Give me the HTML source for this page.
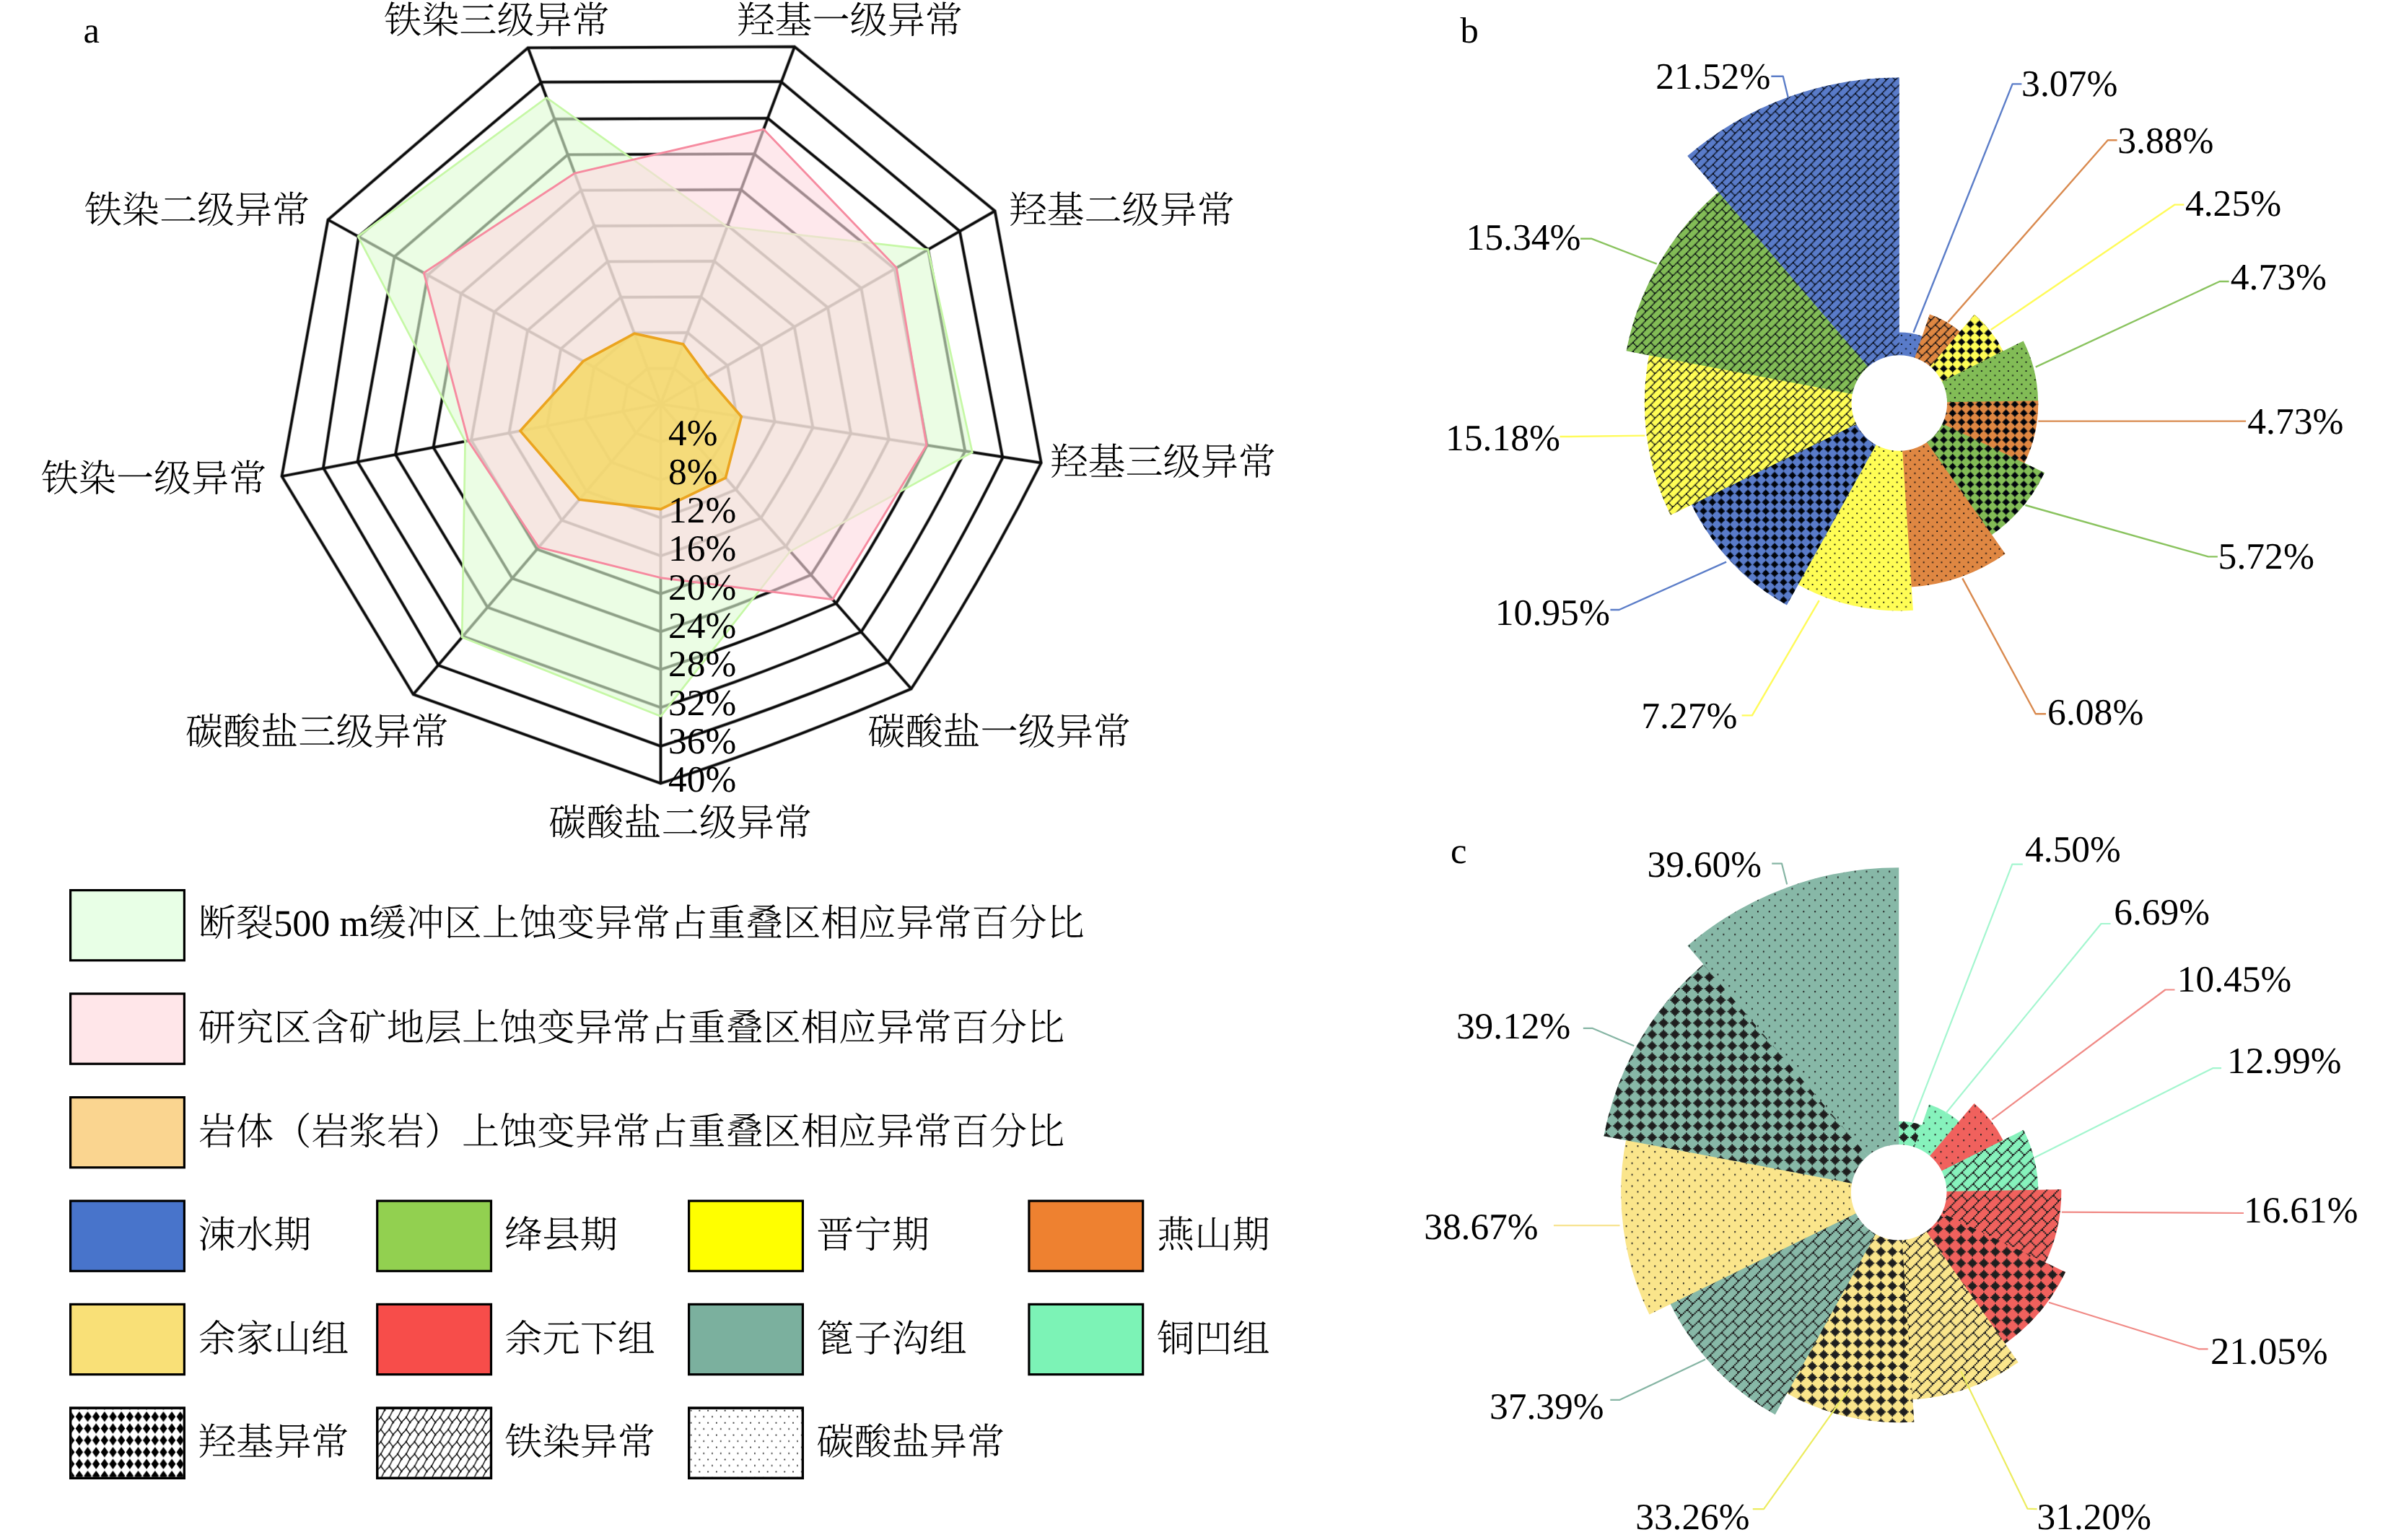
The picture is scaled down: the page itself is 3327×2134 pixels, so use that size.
<!DOCTYPE html>
<html lang="zh"><head><meta charset="utf-8"><title>figure</title>
<style>html,body{margin:0;padding:0;background:#fff}svg{display:block}text{text-rendering:geometricPrecision}</style></head><body>
<svg width="3327" height="2134" viewBox="0 0 3327 2134">
<defs>
<pattern id="brick_b" width="12.330" height="12.330" patternUnits="userSpaceOnUse">
<path d="M10.74,-0.05h1.63v1.63h-1.63zM9.20,1.50h1.63v1.63h-1.63zM7.66,3.04h1.63v1.63h-1.63zM6.12,4.58h1.63v1.63h-1.63zM4.58,6.12h3.17v1.63h-3.17zM3.04,7.66h1.63v1.63h-1.63zM7.66,7.66h1.63v1.63h-1.63zM1.50,9.20h1.63v1.63h-1.63zM9.20,9.20h1.63v1.63h-1.63zM-0.05,10.74h1.63v1.63h-1.63zM10.74,10.74h1.63v1.63h-1.63z" fill="#00040c"/>
</pattern>
<pattern id="dia_b" width="12.330" height="12.330" patternUnits="userSpaceOnUse">
<polygon points="6.13,0.22 6.13,1.70 7.61,1.70 7.61,3.17 9.09,3.17 9.09,4.65 10.57,4.65 10.57,6.13 9.09,6.13 9.09,7.61 7.61,7.61 7.61,9.09 6.13,9.09 6.13,10.57 4.65,10.57 4.65,9.09 3.17,9.09 3.17,7.61 1.70,7.61 1.70,6.13 0.22,6.13 0.22,4.65 1.70,4.65 1.70,3.17 3.17,3.17 3.17,1.70 4.65,1.70 4.65,0.22" fill="#00040c"/>
</pattern>
<pattern id="dot_b" width="12.330" height="12.330" patternUnits="userSpaceOnUse">
<rect x="1.54" y="1.54" width="1.82" height="1.82" fill="#00040c"/>
<rect x="7.71" y="7.71" width="1.82" height="1.82" fill="#00040c"/>
</pattern>
<pattern id="brick_c" width="15.850" height="15.850" patternUnits="userSpaceOnUse">
<path d="M13.81,-0.06h2.10v2.10h-2.10zM11.83,1.92h2.10v2.10h-2.10zM9.85,3.90h2.10v2.10h-2.10zM7.87,5.88h2.10v2.10h-2.10zM5.88,7.87h4.08v2.10h-4.08zM3.90,9.85h2.10v2.10h-2.10zM9.85,9.85h2.10v2.10h-2.10zM1.92,11.83h2.10v2.10h-2.10zM11.83,11.83h2.10v2.10h-2.10zM-0.06,13.81h2.10v2.10h-2.10zM13.81,13.81h2.10v2.10h-2.10z" fill="#1e1e1e"/>
</pattern>
<pattern id="dia_c" width="15.850" height="15.850" patternUnits="userSpaceOnUse">
<polygon points="7.89,0.28 7.89,2.18 9.79,2.18 9.79,4.08 11.69,4.08 11.69,5.98 13.59,5.98 13.59,7.89 11.69,7.89 11.69,9.79 9.79,9.79 9.79,11.69 7.89,11.69 7.89,13.59 5.98,13.59 5.98,11.69 4.08,11.69 4.08,9.79 2.18,9.79 2.18,7.89 0.28,7.89 0.28,5.98 2.18,5.98 2.18,4.08 4.08,4.08 4.08,2.18 5.98,2.18 5.98,0.28" fill="#1e1e1e"/>
</pattern>
<pattern id="dot_c" width="15.850" height="15.850" patternUnits="userSpaceOnUse">
<rect x="1.98" y="1.98" width="1.75" height="2.30" fill="#1e1e1e"/>
<rect x="9.91" y="9.91" width="1.75" height="2.30" fill="#1e1e1e"/>
</pattern>
<pattern id="brick_l" x="527.8" y="1964" width="11.7" height="16.95" patternUnits="userSpaceOnUse">
<path d="M0,0 L5.07,6.9 M0,16.95 L5.07,6.9 L11.7,0" stroke="#000" stroke-width="1.35" fill="none"/>
<path d="M5.07,6.9 l1.9,0 l-1.9,2.2 z M0,0 l-1.6,0 l1.6,-2 z M11.7,0 l-1.6,0 l1.6,-2 z M0,16.95 l-1.6,0 l1.6,-2 z M11.7,16.95 l-1.6,0 l1.6,-2 z" fill="#000"/>
</pattern>
<pattern id="dia_l" x="104.04" y="1954.9" width="11.66" height="16.4" patternUnits="userSpaceOnUse">
<polygon points="0.6,8.2 5.83,0.9 11.06,8.2 5.83,15.5" fill="#000"/>
</pattern>
<pattern id="dot_l" x="956.6" y="1953.8" width="11.79" height="16.94" patternUnits="userSpaceOnUse">
<rect x="0" y="0" width="1.8" height="1.8" fill="#222"/><rect x="5.9" y="8.47" width="1.8" height="1.8" fill="#222"/>
</pattern>
</defs>
<rect width="3327" height="2134" fill="#fff"/>
<g id="radar" stroke-linejoin="miter">
<g fill="none" stroke="#101010" stroke-width="4.8" stroke-opacity="0.45"><path d="M915.5,612.5L881.2,600.2L863.0,570.0L869.4,534.5L897.1,510.6L934.0,510.5L961.8,533.2L968.2,568.1Q960.1,584.3 950.2,599.5Q933.2,606.8 915.5,612.5Z"/><path d="M915.5,665.1L846.9,640.5L810.5,580.0L823.3,508.9L878.7,461.2L952.6,460.9L1008.1,506.5L1020.9,576.3Q1004.7,608.5 984.9,638.9Q950.8,653.6 915.5,665.1Z"/><path d="M915.5,717.6L812.7,680.7L758.0,590.0L777.2,483.4L860.3,411.9L971.1,411.4L1054.4,479.7L1073.7,584.4Q1049.3,632.8 1019.7,678.4Q968.5,700.4 915.5,717.6Z"/><path d="M915.5,770.2L778.4,720.9L705.5,600.0L731.1,457.8L841.9,362.5L989.7,361.9L1100.7,452.9L1126.4,592.6Q1093.9,657.1 1054.4,717.8Q986.2,747.2 915.5,770.2Z"/><path d="M915.5,822.8L744.1,761.1L653.0,610.0L685.0,432.2L823.5,313.1L1008.2,312.4L1147.0,426.1L1179.1,600.7Q1138.5,681.4 1089.1,757.2Q1003.8,794.0 915.5,822.8Z"/><path d="M915.5,875.3L709.8,801.4L600.5,620.0L638.9,406.7L805.2,263.7L1026.8,262.8L1193.4,399.4L1231.8,608.8Q1183.1,705.6 1123.8,796.7Q1021.5,840.8 915.5,875.3Z"/><path d="M915.5,927.8L675.5,841.6L548.0,630.0L592.8,381.1L786.8,214.3L1045.3,213.3L1239.7,372.6L1284.5,617.0Q1227.7,729.9 1158.5,836.1Q1039.1,887.6 915.5,927.8Z"/><path d="M915.5,980.4L641.3,881.8L495.5,640.0L546.7,355.6L768.4,165.0L1063.9,163.8L1286.0,345.8L1337.3,625.1Q1272.3,754.2 1193.3,875.6Q1056.8,934.4 915.5,980.4Z"/><path d="M915.5,1034.0L607.5,921.9L448.0,648.2L497.0,327.5L750.6,113.8L1082.0,113.0L1329.8,320.2L1389.3,634.2Q1317.6,780.2 1230.2,917.5Q1075.6,983.0 915.5,1034.0Z"/><path d="M915.5,1085.5L572.7,962.3L390.5,660.0L454.5,304.5L731.6,66.2L1101.0,64.7L1378.6,292.3L1442.7,641.4Q1361.5,802.7 1262.7,954.5Q1092.1,1028.0 915.5,1085.5Z"/><line x1="915.5" y1="560.0" x2="915.5" y2="1085.5"/><line x1="915.5" y1="560.0" x2="572.7" y2="962.3"/><line x1="915.5" y1="560.0" x2="390.5" y2="660.0"/><line x1="915.5" y1="560.0" x2="454.5" y2="304.5"/><line x1="915.5" y1="560.0" x2="731.6" y2="66.2"/><line x1="915.5" y1="560.0" x2="1101.0" y2="64.7"/><line x1="915.5" y1="560.0" x2="1378.6" y2="292.3"/><line x1="915.5" y1="560.0" x2="1442.7" y2="641.4"/><line x1="915.5" y1="560.0" x2="1262.7" y2="954.5"/></g>
<g fill="none" stroke="#0c0c0c" stroke-width="3.1"><path d="M915.5,612.5L881.2,600.2L863.0,570.0L869.4,534.5L897.1,510.6L934.0,510.5L961.8,533.2L968.2,568.1Q960.1,584.3 950.2,599.5Q933.2,606.8 915.5,612.5Z"/><path d="M915.5,665.1L846.9,640.5L810.5,580.0L823.3,508.9L878.7,461.2L952.6,460.9L1008.1,506.5L1020.9,576.3Q1004.7,608.5 984.9,638.9Q950.8,653.6 915.5,665.1Z"/><path d="M915.5,717.6L812.7,680.7L758.0,590.0L777.2,483.4L860.3,411.9L971.1,411.4L1054.4,479.7L1073.7,584.4Q1049.3,632.8 1019.7,678.4Q968.5,700.4 915.5,717.6Z"/><path d="M915.5,770.2L778.4,720.9L705.5,600.0L731.1,457.8L841.9,362.5L989.7,361.9L1100.7,452.9L1126.4,592.6Q1093.9,657.1 1054.4,717.8Q986.2,747.2 915.5,770.2Z"/><path d="M915.5,822.8L744.1,761.1L653.0,610.0L685.0,432.2L823.5,313.1L1008.2,312.4L1147.0,426.1L1179.1,600.7Q1138.5,681.4 1089.1,757.2Q1003.8,794.0 915.5,822.8Z"/><path d="M915.5,875.3L709.8,801.4L600.5,620.0L638.9,406.7L805.2,263.7L1026.8,262.8L1193.4,399.4L1231.8,608.8Q1183.1,705.6 1123.8,796.7Q1021.5,840.8 915.5,875.3Z"/><path d="M915.5,927.8L675.5,841.6L548.0,630.0L592.8,381.1L786.8,214.3L1045.3,213.3L1239.7,372.6L1284.5,617.0Q1227.7,729.9 1158.5,836.1Q1039.1,887.6 915.5,927.8Z"/><path d="M915.5,980.4L641.3,881.8L495.5,640.0L546.7,355.6L768.4,165.0L1063.9,163.8L1286.0,345.8L1337.3,625.1Q1272.3,754.2 1193.3,875.6Q1056.8,934.4 915.5,980.4Z"/><path d="M915.5,1034.0L607.5,921.9L448.0,648.2L497.0,327.5L750.6,113.8L1082.0,113.0L1329.8,320.2L1389.3,634.2Q1317.6,780.2 1230.2,917.5Q1075.6,983.0 915.5,1034.0Z"/><path d="M915.5,1085.5L572.7,962.3L390.5,660.0L454.5,304.5L731.6,66.2L1101.0,64.7L1378.6,292.3L1442.7,641.4Q1361.5,802.7 1262.7,954.5Q1092.1,1028.0 915.5,1085.5Z"/><line x1="915.5" y1="560.0" x2="915.5" y2="1085.5"/><line x1="915.5" y1="560.0" x2="572.7" y2="962.3"/><line x1="915.5" y1="560.0" x2="390.5" y2="660.0"/><line x1="915.5" y1="560.0" x2="454.5" y2="304.5"/><line x1="915.5" y1="560.0" x2="731.6" y2="66.2"/><line x1="915.5" y1="560.0" x2="1101.0" y2="64.7"/><line x1="915.5" y1="560.0" x2="1378.6" y2="292.3"/><line x1="915.5" y1="560.0" x2="1442.7" y2="641.4"/><line x1="915.5" y1="560.0" x2="1262.7" y2="954.5"/></g>
<polygon points="915.5,992.5 640.2,883.0 644.6,611.6 496.0,327.5 757.3,135.3 1007.6,314.1 1286.0,345.8 1347.3,626.7 1095.0,764.0" fill="rgb(222,252,212)" fill-opacity="0.62" stroke="#c6f8a6" stroke-width="2.7"/>
<polygon points="915.5,800.7 746.5,758.3 648.8,610.8 587.3,378.1 796.3,240.0 1058.1,179.1 1242.3,371.1 1284.0,616.9 1153.7,830.6" fill="rgb(254,218,224)" fill-opacity="0.62" stroke="#f68ba0" stroke-width="2.9"/>
<polygon points="915.5,705.6 802.7,692.4 720.9,597.1 808.2,500.5 879.1,462.2 946.6,476.9 980.1,522.6 1027.3,577.3 1005.4,662.2" fill="rgb(245,216,105)" fill-opacity="0.86" stroke="#eba41f" stroke-width="3.6"/>
</g>
<g font-family='"Liberation Serif",serif' font-size="51.4" fill="#000">
<text x="926" y="617.4">4%</text>
<text x="926" y="670.7">8%</text>
<text x="926" y="724.0">12%</text>
<text x="926" y="777.3">16%</text>
<text x="926" y="830.6">20%</text>
<text x="926" y="883.9">24%</text>
<text x="926" y="937.2">28%</text>
<text x="926" y="990.5">32%</text>
<text x="926" y="1043.8">36%</text>
<text x="926" y="1097.1">40%</text>
</g>
<g font-family='"Liberation Serif","Noto Serif CJK SC",serif' font-size="52.1" font-weight="300" fill="#000">
<text x="532.1" y="46.3">铁染三级异常</text>
<text x="1021.3" y="46.3">羟基一级异常</text>
<text x="116.7" y="309.4">铁染二级异常</text>
<text x="1398.3" y="309.4">羟基二级异常</text>
<text x="56.7" y="680.8">铁染一级异常</text>
<text x="1455.3" y="657.8">羟基三级异常</text>
<text x="257.0" y="1031.8">碳酸盐三级异常</text>
<text x="1202.3" y="1031.8">碳酸盐一级异常</text>
<text x="760.3" y="1157.8">碳酸盐二级异常</text>
</g>
<g id="pie_b">
<path d="M2631.40,493.20 L2631.20,460.50 A98.00,98.00 0 0 1 2664.03,465.95 L2653.27,496.83 A65.30,65.30 0 0 0 2631.40,493.20 Z" fill="#597bc9"/>
<path d="M2631.40,493.20 L2631.20,460.50 A98.00,98.00 0 0 1 2664.03,465.95 L2653.27,496.83 A65.30,65.30 0 0 0 2631.40,493.20 Z" fill="url(#dot_b)"/>
<path d="M2652.95,496.72 L2673.91,435.51 A130.00,130.00 0 0 1 2716.40,459.79 L2674.30,508.92 A65.30,65.30 0 0 0 2652.95,496.72 Z" fill="#df8742"/>
<path d="M2652.95,496.72 L2673.91,435.51 A130.00,130.00 0 0 1 2716.40,459.79 L2674.30,508.92 A65.30,65.30 0 0 0 2652.95,496.72 Z" fill="url(#brick_b)"/>
<path d="M2674.04,508.70 L2735.93,435.71 A161.00,161.00 0 0 1 2776.13,487.17 L2690.34,529.57 A65.30,65.30 0 0 0 2674.04,508.70 Z" fill="#fffd55"/>
<path d="M2674.04,508.70 L2735.93,435.71 A161.00,161.00 0 0 1 2776.13,487.17 L2690.34,529.57 A65.30,65.30 0 0 0 2674.04,508.70 Z" fill="url(#dia_b)"/>
<path d="M2690.19,529.26 L2803.75,472.40 A192.30,192.30 0 0 1 2824.09,556.15 L2697.10,557.70 A65.30,65.30 0 0 0 2690.19,529.26 Z" fill="#82bc56"/>
<path d="M2690.19,529.26 L2803.75,472.40 A192.30,192.30 0 0 1 2824.09,556.15 L2697.10,557.70 A65.30,65.30 0 0 0 2690.19,529.26 Z" fill="url(#dot_b)"/>
<path d="M2697.09,557.36 L2824.27,555.14 A192.50,192.50 0 0 1 2804.96,642.58 L2690.54,587.02 A65.30,65.30 0 0 0 2697.09,557.36 Z" fill="#df8742"/>
<path d="M2697.09,557.36 L2824.27,555.14 A192.50,192.50 0 0 1 2804.96,642.58 L2690.54,587.02 A65.30,65.30 0 0 0 2697.09,557.36 Z" fill="url(#dia_b)"/>
<path d="M2690.69,586.72 L2833.09,654.94 A223.20,223.20 0 0 1 2759.18,741.78 L2669.07,612.12 A65.30,65.30 0 0 0 2690.69,586.72 Z" fill="#82bc56"/>
<path d="M2690.69,586.72 L2833.09,654.94 A223.20,223.20 0 0 1 2759.18,741.78 L2669.07,612.12 A65.30,65.30 0 0 0 2690.69,586.72 Z" fill="url(#dia_b)"/>
<path d="M2669.35,611.93 L2778.71,767.54 A255.50,255.50 0 0 1 2647.40,813.52 L2635.79,623.68 A65.30,65.30 0 0 0 2669.35,611.93 Z" fill="#df8742"/>
<path d="M2669.35,611.93 L2778.71,767.54 A255.50,255.50 0 0 1 2647.40,813.52 L2635.79,623.68 A65.30,65.30 0 0 0 2669.35,611.93 Z" fill="url(#dot_b)"/>
<path d="M2636.13,623.66 L2650.89,845.87 A288.00,288.00 0 0 1 2490.42,809.41 L2599.74,615.39 A65.30,65.30 0 0 0 2636.13,623.66 Z" fill="#fffd55"/>
<path d="M2636.13,623.66 L2650.89,845.87 A288.00,288.00 0 0 1 2490.42,809.41 L2599.74,615.39 A65.30,65.30 0 0 0 2636.13,623.66 Z" fill="url(#dot_b)"/>
<path d="M2600.04,615.56 L2475.93,838.54 A320.50,320.50 0 0 1 2343.25,697.99 L2573.01,586.92 A65.30,65.30 0 0 0 2600.04,615.56 Z" fill="#597bc9"/>
<path d="M2600.04,615.56 L2475.93,838.54 A320.50,320.50 0 0 1 2343.25,697.99 L2573.01,586.92 A65.30,65.30 0 0 0 2600.04,615.56 Z" fill="url(#dia_b)"/>
<path d="M2573.16,587.23 L2314.80,713.80 A353.00,353.00 0 0 1 2285.40,490.54 L2567.72,545.93 A65.30,65.30 0 0 0 2573.16,587.23 Z" fill="#fffd55"/>
<path d="M2573.16,587.23 L2314.80,713.80 A353.00,353.00 0 0 1 2285.40,490.54 L2567.72,545.93 A65.30,65.30 0 0 0 2573.16,587.23 Z" fill="url(#brick_b)"/>
<path d="M2567.66,546.26 L2253.62,486.36 A385.00,385.00 0 0 1 2382.79,264.87 L2589.56,508.70 A65.30,65.30 0 0 0 2567.66,546.26 Z" fill="#82bc56"/>
<path d="M2567.66,546.26 L2253.62,486.36 A385.00,385.00 0 0 1 2382.79,264.87 L2589.56,508.70 A65.30,65.30 0 0 0 2567.66,546.26 Z" fill="url(#brick_b)"/>
<path d="M2589.30,508.92 L2338.30,216.07 A451.00,451.00 0 0 1 2631.80,107.50 L2631.80,493.20 A65.30,65.30 0 0 0 2589.30,508.92 Z" fill="#597bc9"/>
<path d="M2589.30,508.92 L2338.30,216.07 A451.00,451.00 0 0 1 2631.80,107.50 L2631.80,493.20 A65.30,65.30 0 0 0 2589.30,508.92 Z" fill="url(#brick_b)"/>
<circle cx="2631.8" cy="558.5" r="66.3" fill="#fff"/>
</g>
<g fill="none" stroke-width="2.4" stroke-linejoin="round">
<polyline points="2454.3,105.7 2470.7,105.7 2477.9,135.7" stroke="#5b7dc8"/>
<polyline points="2651.4,460.7 2788.6,116.4 2801.4,116.4" stroke="#5b7dc8"/>
<polyline points="2699.3,446.4 2920.7,194.3 2933.6,194.3" stroke="#d98a4f"/>
<polyline points="2758.6,457.1 3013.6,283.6 3026.4,283.6" stroke="#fffb5a"/>
<polyline points="2820.7,508.6 3075.7,390.0 3088.6,390.0" stroke="#8ac35f"/>
<polyline points="2824.3,583.6 3112.1,583.6" stroke="#d98a4f"/>
<polyline points="2806.4,700.0 3060.0,771.4 3072.9,771.4" stroke="#8ac35f"/>
<polyline points="2719.3,801.4 2820.7,989.3 2835.0,989.3" stroke="#d98a4f"/>
<polyline points="2520.7,832.1 2427.9,991.4 2413.6,991.4" stroke="#fffb5a"/>
<polyline points="2392.1,778.6 2243.6,845.0 2231.4,845.0" stroke="#5b7dc8"/>
<polyline points="2279.3,603.6 2174.3,605.0 2161.4,605.0" stroke="#fffb5a"/>
<polyline points="2295.7,365.7 2205.0,330.7 2190.0,330.7" stroke="#8ac35f"/>
</g>
<g font-family='"Liberation Serif",serif' font-size="51.6" fill="#000">
<text x="2294.3" y="122.9" text-anchor="start">21.52%</text>
<text x="2801.1" y="133.0" text-anchor="start">3.07%</text>
<text x="2934.3" y="211.6" text-anchor="start">3.88%</text>
<text x="3027.9" y="298.6" text-anchor="start">4.25%</text>
<text x="3090.7" y="401.4" text-anchor="start">4.73%</text>
<text x="3114.3" y="601.1" text-anchor="start">4.73%</text>
<text x="3073.6" y="788.2" text-anchor="start">5.72%</text>
<text x="2837.1" y="1003.6" text-anchor="start">6.08%</text>
<text x="2274.3" y="1008.6" text-anchor="start">7.27%</text>
<text x="2071.8" y="866.1" text-anchor="start">10.95%</text>
<text x="2002.9" y="623.9" text-anchor="start">15.18%</text>
<text x="2031.4" y="346.4" text-anchor="start">15.34%</text>
</g>
<g id="pie_c">
<path d="M2630.80,1586.90 L2630.60,1553.70 A98.50,98.50 0 0 1 2663.59,1559.18 L2652.67,1590.53 A65.30,65.30 0 0 0 2630.80,1586.90 Z" fill="#86f2bc"/>
<path d="M2630.80,1586.90 L2630.60,1553.70 A98.50,98.50 0 0 1 2663.59,1559.18 L2652.67,1590.53 A65.30,65.30 0 0 0 2630.80,1586.90 Z" fill="url(#dia_c)"/>
<path d="M2652.35,1590.42 L2672.99,1530.15 A129.00,129.00 0 0 1 2715.15,1554.25 L2673.70,1602.62 A65.30,65.30 0 0 0 2652.35,1590.42 Z" fill="#86f2bc"/>
<path d="M2652.35,1590.42 L2672.99,1530.15 A129.00,129.00 0 0 1 2715.15,1554.25 L2673.70,1602.62 A65.30,65.30 0 0 0 2652.35,1590.42 Z" fill="url(#dot_c)"/>
<path d="M2673.44,1602.40 L2735.66,1529.03 A161.50,161.50 0 0 1 2775.98,1580.64 L2689.74,1623.27 A65.30,65.30 0 0 0 2673.44,1602.40 Z" fill="#f0615d"/>
<path d="M2673.44,1602.40 L2735.66,1529.03 A161.50,161.50 0 0 1 2775.98,1580.64 L2689.74,1623.27 A65.30,65.30 0 0 0 2673.44,1602.40 Z" fill="url(#dot_c)"/>
<path d="M2689.59,1622.96 L2803.95,1565.69 A193.20,193.20 0 0 1 2824.39,1649.84 L2696.50,1651.40 A65.30,65.30 0 0 0 2689.59,1622.96 Z" fill="#86f2bc"/>
<path d="M2689.59,1622.96 L2803.95,1565.69 A193.20,193.20 0 0 1 2824.39,1649.84 L2696.50,1651.40 A65.30,65.30 0 0 0 2689.59,1622.96 Z" fill="url(#brick_c)"/>
<path d="M2696.49,1651.06 L2856.27,1648.27 A225.10,225.10 0 0 1 2833.69,1750.52 L2689.94,1680.72 A65.30,65.30 0 0 0 2696.49,1651.06 Z" fill="#f0615d"/>
<path d="M2696.49,1651.06 L2856.27,1648.27 A225.10,225.10 0 0 1 2833.69,1750.52 L2689.94,1680.72 A65.30,65.30 0 0 0 2696.49,1651.06 Z" fill="url(#brick_c)"/>
<path d="M2690.09,1680.42 L2862.07,1762.81 A256.00,256.00 0 0 1 2777.30,1862.41 L2668.47,1705.82 A65.30,65.30 0 0 0 2690.09,1680.42 Z" fill="#f0615d"/>
<path d="M2690.09,1680.42 L2862.07,1762.81 A256.00,256.00 0 0 1 2777.30,1862.41 L2668.47,1705.82 A65.30,65.30 0 0 0 2690.09,1680.42 Z" fill="url(#dia_c)"/>
<path d="M2668.75,1705.63 L2796.69,1887.66 A287.80,287.80 0 0 1 2648.77,1939.46 L2635.19,1717.38 A65.30,65.30 0 0 0 2668.75,1705.63 Z" fill="#fae58b"/>
<path d="M2668.75,1705.63 L2796.69,1887.66 A287.80,287.80 0 0 1 2648.77,1939.46 L2635.19,1717.38 A65.30,65.30 0 0 0 2668.75,1705.63 Z" fill="url(#brick_c)"/>
<path d="M2635.53,1717.36 L2652.34,1970.50 A319.00,319.00 0 0 1 2474.60,1930.12 L2599.14,1709.09 A65.30,65.30 0 0 0 2635.53,1717.36 Z" fill="#fae58b"/>
<path d="M2635.53,1717.36 L2652.34,1970.50 A319.00,319.00 0 0 1 2474.60,1930.12 L2599.14,1709.09 A65.30,65.30 0 0 0 2635.53,1717.36 Z" fill="url(#dia_c)"/>
<path d="M2599.44,1709.26 L2459.77,1960.20 A352.50,352.50 0 0 1 2313.84,1805.62 L2572.41,1680.62 A65.30,65.30 0 0 0 2599.44,1709.26 Z" fill="#87b8a7"/>
<path d="M2599.44,1709.26 L2459.77,1960.20 A352.50,352.50 0 0 1 2313.84,1805.62 L2572.41,1680.62 A65.30,65.30 0 0 0 2599.44,1709.26 Z" fill="url(#brick_c)"/>
<path d="M2572.56,1680.93 L2285.46,1821.58 A385.00,385.00 0 0 1 2253.40,1578.08 L2567.12,1639.63 A65.30,65.30 0 0 0 2572.56,1680.93 Z" fill="#fae58b"/>
<path d="M2572.56,1680.93 L2285.46,1821.58 A385.00,385.00 0 0 1 2253.40,1578.08 L2567.12,1639.63 A65.30,65.30 0 0 0 2572.56,1680.93 Z" fill="url(#dot_c)"/>
<path d="M2567.06,1639.96 L2222.37,1574.21 A416.20,416.20 0 0 1 2362.01,1334.78 L2588.96,1602.40 A65.30,65.30 0 0 0 2567.06,1639.96 Z" fill="#87b8a7"/>
<path d="M2567.06,1639.96 L2222.37,1574.21 A416.20,416.20 0 0 1 2362.01,1334.78 L2588.96,1602.40 A65.30,65.30 0 0 0 2567.06,1639.96 Z" fill="url(#dia_c)"/>
<path d="M2588.70,1602.62 L2338.35,1310.53 A450.00,450.00 0 0 1 2631.20,1202.20 L2631.20,1586.90 A65.30,65.30 0 0 0 2588.70,1602.62 Z" fill="#87b8a7"/>
<path d="M2588.70,1602.62 L2338.35,1310.53 A450.00,450.00 0 0 1 2631.20,1202.20 L2631.20,1586.90 A65.30,65.30 0 0 0 2588.70,1602.62 Z" fill="url(#dot_c)"/>
<circle cx="2631.2" cy="1652.2" r="66.3" fill="#fff"/>
</g>
<g fill="none" stroke-width="2.2" stroke-linejoin="round">
<polyline points="2455.2,1196.7 2469.0,1196.7 2476.2,1225.4" stroke="#86b5a4"/>
<polyline points="2650.1,1554.6 2788.3,1197.7 2802.8,1197.7" stroke="#a4f6cf"/>
<polyline points="2696.2,1542.7 2911.5,1280.0 2924.6,1280.0" stroke="#a4f6cf"/>
<polyline points="2760.0,1551.3 3000.4,1371.5 3013.5,1371.5" stroke="#f08a86"/>
<polyline points="2819.3,1604.0 3066.2,1480.2 3078.1,1480.2" stroke="#a4f6cf"/>
<polyline points="2856.8,1679.7 3109.0,1681.0" stroke="#f08a86"/>
<polyline points="2839.0,1804.8 3046.5,1869.3 3059.6,1869.3" stroke="#f08a86"/>
<polyline points="2717.2,1900.3 2809.4,2090.6 2822.6,2091.2" stroke="#ecec5e"/>
<polyline points="2562.5,1924.6 2444.0,2091.2 2428.8,2091.2" stroke="#ecec5e"/>
<polyline points="2363.0,1883.8 2244.5,1939.8 2231.3,1939.8" stroke="#86b5a4"/>
<polyline points="2244.5,1698.1 2152.9,1698.1" stroke="#f7e38f"/>
<polyline points="2264.2,1449.2 2206.9,1424.9 2193.8,1424.9" stroke="#86b5a4"/>
</g>
<g font-family='"Liberation Serif",serif' font-size="51.4" fill="#000">
<text x="2282.6" y="1215.2" text-anchor="start">39.60%</text>
<text x="2806.1" y="1193.7" text-anchor="start">4.50%</text>
<text x="2929.3" y="1281.3" text-anchor="start">6.69%</text>
<text x="3016.8" y="1373.5" text-anchor="start">10.45%</text>
<text x="3086.0" y="1486.8" text-anchor="start">12.99%</text>
<text x="3109.0" y="1694.2" text-anchor="start">16.61%</text>
<text x="3062.9" y="1889.7" text-anchor="start" font-size="52.8">21.05%</text>
<text x="2822.6" y="2118.6" text-anchor="start">31.20%</text>
<text x="2266.2" y="2118.6" text-anchor="start">33.26%</text>
<text x="2064.0" y="1966.1" text-anchor="start">37.39%</text>
<text x="1973.2" y="1716.9" text-anchor="start">38.67%</text>
<text x="2017.9" y="1439.4" text-anchor="start">39.12%</text>
</g>
<g stroke="#000" stroke-width="3.2">
<rect x="97.6" y="1233.6" width="157.8" height="97.2" fill="#e8ffe6"/>
<rect x="97.6" y="1377.0" width="157.8" height="97.2" fill="#ffe6e9"/>
<rect x="97.6" y="1520.6" width="157.8" height="97.2" fill="#fad590"/>
<rect x="97.6" y="1664.1" width="157.8" height="97.2" fill="#4874cb"/>
<rect x="522.7" y="1664.1" width="157.8" height="97.2" fill="#92d050"/>
<rect x="954.6" y="1664.1" width="157.8" height="97.2" fill="#ffff00"/>
<rect x="1425.9" y="1664.1" width="157.8" height="97.2" fill="#ee8130"/>
<rect x="97.6" y="1807.4" width="157.8" height="97.2" fill="#f9e077"/>
<rect x="522.7" y="1807.4" width="157.8" height="97.2" fill="#f74d4a"/>
<rect x="954.6" y="1807.4" width="157.8" height="97.2" fill="#7bb09e"/>
<rect x="1425.9" y="1807.4" width="157.8" height="97.2" fill="#7cf3b6"/>
<rect x="97.6" y="1951.1" width="157.8" height="97.2" fill="#fff"/>
<rect x="99.2" y="1952.7" width="154.6" height="94.0" fill="url(#dia_l)" stroke="none"/>
<rect x="97.6" y="1951.1" width="157.8" height="97.2" fill="none"/>
<rect x="522.7" y="1951.1" width="157.8" height="97.2" fill="#fff"/>
<rect x="524.3" y="1952.7" width="154.6" height="94.0" fill="url(#brick_l)" stroke="none"/>
<rect x="522.7" y="1951.1" width="157.8" height="97.2" fill="none"/>
<rect x="954.6" y="1951.1" width="157.8" height="97.2" fill="#fff"/>
<rect x="956.2" y="1952.7" width="154.6" height="94.0" fill="url(#dot_l)" stroke="none"/>
<rect x="954.6" y="1951.1" width="157.8" height="97.2" fill="none"/>
</g>
<g font-family='"Liberation Serif","Noto Serif CJK SC",serif' font-size="52.2" font-weight="300" fill="#000">
<text x="274.8" y="1296.8">断裂500 m缓冲区上蚀变异常占重叠区相应异常百分比</text>
<text x="274.8" y="1442.2">研究区含矿地层上蚀变异常占重叠区相应异常百分比</text>
<text x="274.8" y="1585.8">岩体（岩浆岩）上蚀变异常占重叠区相应异常百分比</text>
<text x="274.8" y="1729.3">涑水期</text>
<text x="699.3" y="1729.3">绛县期</text>
<text x="1131.3" y="1729.3">晋宁期</text>
<text x="1603.1" y="1729.3">燕山期</text>
<text x="274.8" y="1872.6">余家山组</text>
<text x="699.3" y="1872.6">余元下组</text>
<text x="1131.3" y="1872.6">篦子沟组</text>
<text x="1603.1" y="1872.6">铜凹组</text>
<text x="274.8" y="2016.3">羟基异常</text>
<text x="699.3" y="2016.3">铁染异常</text>
<text x="1131.3" y="2016.3">碳酸盐异常</text>
</g>
<g font-family='"Liberation Serif",serif' font-size="50.6" fill="#000">
<text x="115.5" y="59.2">a</text>
<text x="2023.5" y="59.2">b</text>
<text x="2010" y="1196.3">c</text>
</g>
</svg></body></html>
